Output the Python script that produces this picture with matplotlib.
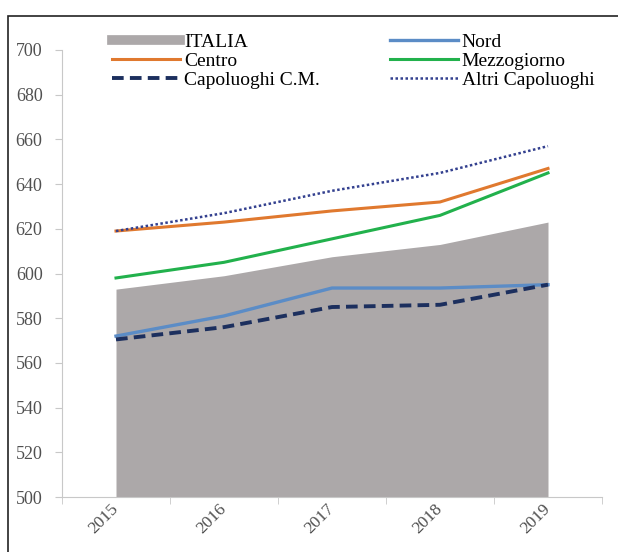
import matplotlib.pyplot as plt
from matplotlib.lines import Line2D
from matplotlib.patches import Rectangle
import numpy as np

anni = ['2015', '2016', '2017', '2018', '2019']
italia = [593, 599, 607.5, 613, 623]
nord = [572, 581, 593.5, 593.5, 595]
centro = [619, 623, 628, 632, 647]
mezzogiorno = [598, 605, 615.5, 626, 645]
capoluoghi_cm = [570.5, 576, 585, 586, 595]
altri_capoluoghi = [619, 627, 637, 645, 657]

plt.rcParams['font.family'] = ['Liberation Serif', 'DejaVu Serif']

fig = plt.figure(figsize=(6.18, 5.52), dpi=100)
ax = fig.add_axes([62 / 618, 1 - 497 / 552, 540 / 618, 447 / 552])

x = np.arange(len(anni))

ax.fill_between(x, 500, italia, color='#aca8a9', lw=0, zorder=1)
ax.plot(x, nord, color='#5b8cc6', lw=2.4, zorder=3)
ax.plot(x, centro, color='#e0792f', lw=2.2, zorder=3)
ax.plot(x, mezzogiorno, color='#22b14c', lw=2.2, zorder=3)
ax.plot(x, capoluoghi_cm, color='#1c2f5e', lw=2.8, ls=(0, (3, 1.6)), zorder=4)
ax.plot(x, altri_capoluoghi, color='#33408f', lw=1.8, ls=(0, (1, 1)), zorder=4)

ax.set_xlim(-0.5, 4.5)
ax.set_ylim(500, 700)
ax.set_yticks(np.arange(500, 701, 20))
ax.set_xticks(x)
ax.set_xticklabels(anni, rotation=45, color='#505050', fontsize=12.5,
                   ha='right', va='center', rotation_mode='anchor')
ax.set_xticks(np.arange(-0.5, 5, 1), minor=True)
ax.tick_params(axis='x', which='major', length=0, pad=7)
ax.tick_params(axis='x', which='minor', length=5, color='#c8c8c8', direction='out')
ax.tick_params(axis='y', length=5, color='#c8c8c8', labelcolor='#505050', labelsize=13, pad=9)

for s in ['top', 'right']:
    ax.spines[s].set_visible(False)
for s in ['left', 'bottom']:
    ax.spines[s].set_color('#c8c8c8')

handles = [
    Line2D([], [], color='#aca8a9', lw=7),
    Line2D([], [], color='#e0792f', lw=2.2),
    Line2D([], [], color='#1c2f5e', lw=2.8, ls=(0, (3, 1.6))),
    Line2D([], [], color='#5b8cc6', lw=2.4),
    Line2D([], [], color='#22b14c', lw=2.2),
    Line2D([], [], color='#33408f', lw=1.8, ls=(0, (1, 1))),
]
labels = ['ITALIA', 'Centro', 'Capoluoghi C.M.', 'Nord', 'Mezzogiorno', 'Altri Capoluoghi']
fig.legend(handles, labels, ncol=2, frameon=False, loc='upper left',
           bbox_to_anchor=(112 / 618, 1 - 33 / 552), fontsize=14,
           handlelength=3.5, handletextpad=0.2, columnspacing=3.6,
           labelspacing=0.08, borderaxespad=0, borderpad=0)

# cornice esterna
fig.patches.append(Rectangle((8 / 618, -0.01), 1, 1 - 16 / 552 + 0.01,
                             transform=fig.transFigure, fill=False,
                             edgecolor='#222222', lw=1.2))

fig.savefig('out.png', dpi=100)
